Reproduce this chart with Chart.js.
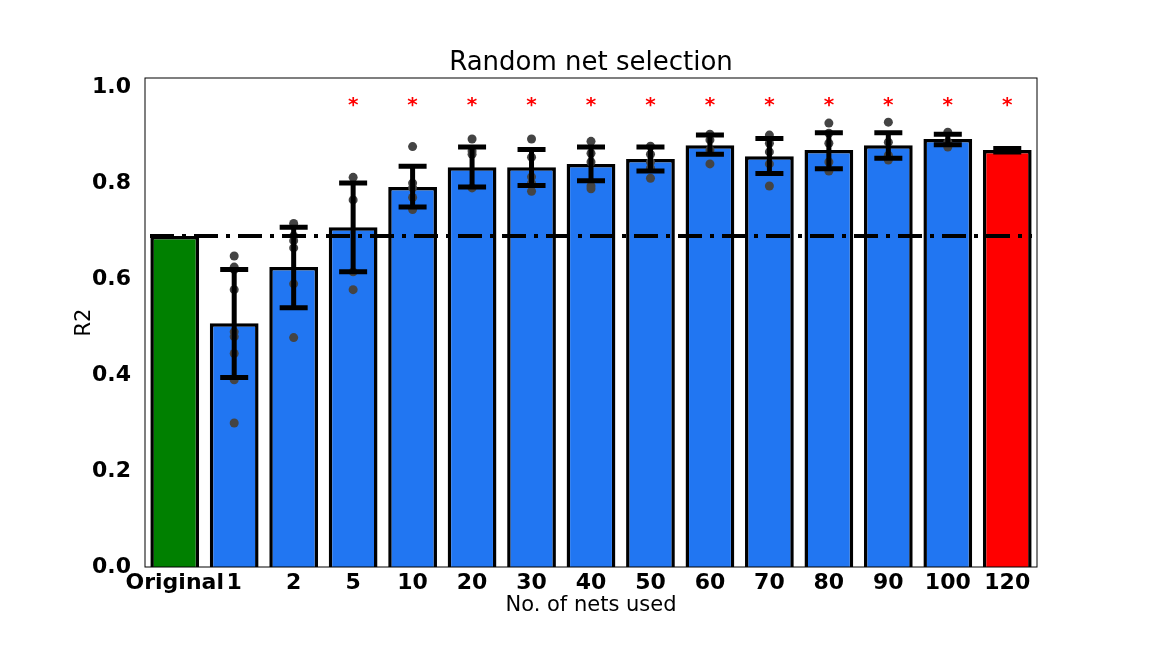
<!DOCTYPE html>
<html><head><meta charset="utf-8">
<script src="https://cdn.jsdelivr.net/npm/chart.js@4/dist/chart.umd.min.js"></script>
<style>html,body{margin:0;padding:0;background:#fff}#w{width:1152px;height:648px}</style>
</head><body><div id="w"><canvas id="c"></canvas></div>
<script>
const categories=["Original","1","2","5","10","20","30","40","50","60","70","80","90","100","120"];
const means=[0.69,0.508,0.625,0.708,0.792,0.833,0.833,0.84,0.85,0.879,0.856,0.869,0.879,0.892,0.869];
const errLow=[null,0.395,0.54,0.615,0.75,0.792,0.795,0.805,0.825,0.86,0.82,0.83,0.852,0.88,0.865];
const errHigh=[null,0.62,0.708,0.80,0.835,0.875,0.87,0.875,0.875,0.90,0.893,0.905,0.905,0.902,0.872];
const runs=[[],[0.648,0.625,0.62,0.578,0.49,0.48,0.445,0.39,0.3],[0.716,0.69,0.68,0.665,0.59,0.478],[0.812,0.765,0.615,0.578],[0.876,0.8,0.79,0.77,0.745],
[0.892,0.867,0.86,0.79],[0.892,0.854,0.813,0.8,0.783],[0.887,0.862,0.844,0.794,0.788],[0.877,0.86,0.844,0.831,0.81],[0.902,0.89,0.869,0.84],
[0.9,0.883,0.865,0.84,0.794],[0.925,0.904,0.883,0.844,0.825],[0.927,0.885,0.858,0.848],[0.906,0.885,0.875],[]];
const significant=[false,false,false,true,true,true,true,true,true,true,true,true,true,true,true];
const yTicks=[0,0.2,0.4,0.6,0.8,1.0];
const baseline=0.69;
const colors=categories.map((c,i)=>i===0?'#008000':(i===categories.length-1?'#ff0000':'#2176f2'));
const pts=[];runs.forEach((r,i)=>r.forEach(v=>pts.push({x:categories[i],y:v})));
const deco={id:'deco',
 afterDatasetsDraw(ch){const {ctx,scales:{x,y}}=ch;ctx.save();
  ctx.strokeStyle='#000';ctx.lineWidth=5;
  categories.forEach((c,i)=>{if(errLow[i]==null)return;const px=x.getPixelForValue(i);
   const y1=y.getPixelForValue(errLow[i]),y2=y.getPixelForValue(errHigh[i]);
   ctx.beginPath();ctx.moveTo(px,y1);ctx.lineTo(px,y2);ctx.moveTo(px-14,y1);ctx.lineTo(px+14,y1);ctx.moveTo(px-14,y2);ctx.lineTo(px+14,y2);ctx.stroke();});
  ctx.fillStyle='red';ctx.font='bold 20px "DejaVu Sans"';ctx.textAlign='center';ctx.textBaseline='middle';
  categories.forEach((c,i)=>{if(significant[i])ctx.fillText('*',x.getPixelForValue(i),y.getPixelForValue(0.962));});
  ctx.restore();},
 afterDraw(ch){const {ctx,scales:{y},chartArea:a}=ch;ctx.save();
  const py=y.getPixelForValue(baseline);ctx.strokeStyle='#000';ctx.lineWidth=4;ctx.setLineDash([24,8,4,8]);
  ctx.beginPath();ctx.moveTo(a.left+5,py);ctx.lineTo(a.right-5,py);ctx.stroke();ctx.setLineDash([]);
  ctx.lineWidth=1;ctx.strokeRect(a.left,a.top,a.right-a.left,a.bottom-a.top);
  ctx.fillStyle='#000';ctx.font='26px "DejaVu Sans"';ctx.textAlign='center';ctx.textBaseline='middle';
  ctx.fillText('Random net selection',(a.left+a.right)/2,63);ctx.restore();}};
new Chart(document.getElementById('c'),{
 data:{labels:categories,datasets:[
  {type:'scatter',data:pts,backgroundColor:'#444',borderWidth:0,pointRadius:4.5,order:0},
  {type:'bar',data:means,backgroundColor:colors,borderColor:'#000',borderWidth:3.5,categoryPercentage:0.82,barPercentage:1,order:1}]},
 options:{responsive:true,maintainAspectRatio:false,animation:false,
  layout:{padding:{top:78,right:115,left:72,bottom:0}},
  plugins:{legend:{display:false},tooltip:{enabled:false}},
  scales:{
   x:{type:'category',offset:true,grid:{display:false},border:{display:false},
    ticks:{color:'#000',font:{family:'DejaVu Sans',size:22,weight:'bold'},padding:-5,maxRotation:0,autoSkip:false},
    title:{display:true,text:'No. of nets used',color:'#000',font:{family:'DejaVu Sans',size:21},padding:{top:0,bottom:30}},
    afterFit(s){s.height=81;}},
   y:{min:0,max:1.019,grid:{display:false},border:{display:false},
    afterBuildTicks(s){s.ticks=yTicks.map(v=>({value:v}));},
    ticks:{color:'#000',font:{family:'DejaVu Sans',size:22,weight:'bold'},padding:6,callback:v=>Number(v).toFixed(1)},
    title:{display:true,text:'R2',color:'#000',font:{family:'DejaVu Sans',size:21},padding:0},
    afterFit(s){s.width=73;}}}},
 plugins:[deco]});
</script></body></html>
